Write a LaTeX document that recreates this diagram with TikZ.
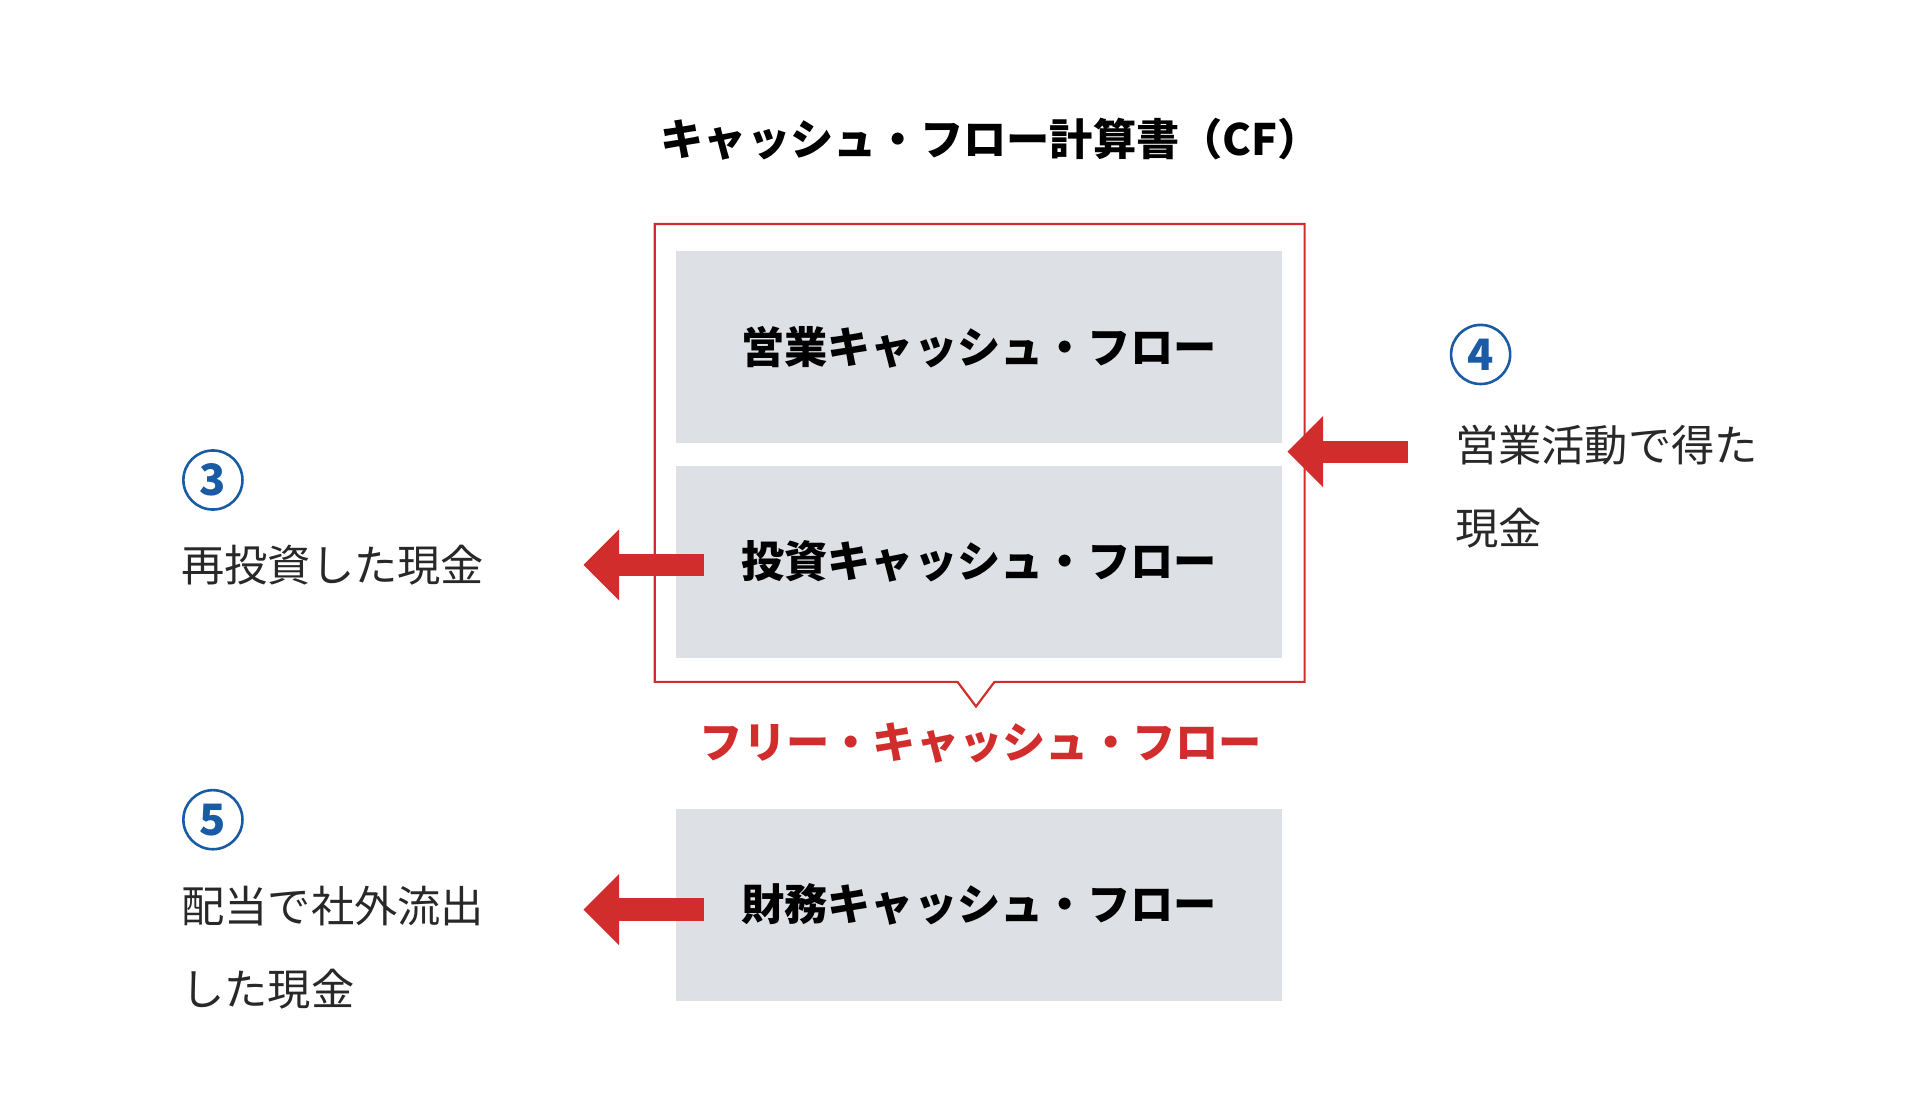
\documentclass[tikz,border=0pt]{standalone}
\usepackage{fontspec}
\setmainfont{Noto Sans CJK JP}
\usetikzlibrary{positioning, calc, arrows.meta}
\definecolor{cfred}{RGB}{210,45,45}
\definecolor{cfgray}{RGB}{221,225,230}
\definecolor{cfblue}{RGB}{26,91,166}
\definecolor{cftext}{RGB}{40,40,40}
\tikzset{
  cfbox/.style={fill=cfgray, minimum width=9.86cm, minimum height=3.12cm, inner sep=0pt,
                font=\fontsize{20}{24}\selectfont\bfseries},
  cfnum/.style={circle, draw=cfblue, line width=1.2pt, text=cfblue, minimum size=0.96cm,
                inner sep=0pt, font=\fontsize{20}{24}\selectfont\bfseries},
  cfnote/.style={anchor=west, text=cftext, align=left, inner sep=0pt,
                 font=\fontsize{20}{24}\selectfont},
  cfarrow/.style={draw=cfred, line width=0.36cm,
                  -{Triangle[width=1.12cm,length=0.58cm]}, shorten >=0pt}
}
\begin{document}
\begin{tikzpicture}
\useasboundingbox (0,0) rectangle (31.2,-17.84);
\node (title) at (16.1,-2.26) {\fontsize{20}{24}\selectfont\bfseries キャッシュ・フロー計算書（CF）};
% free cash flow frame
\draw [cfred, line width=1pt] (10.64,-3.64) -- (21.2,-3.64) -- (21.2,-11.08) -- (16.16,-11.08)
      -- (15.86,-11.48) -- (15.56,-11.08) -- (10.64,-11.08) -- cycle;
\node [cfbox] (op)  at (15.91,-5.64) {営業キャッシュ・フロー};
\node [cfbox] (inv) at (15.91,-9.13) {投資キャッシュ・フロー};
\node [cfbox] (fin) at (15.91,-14.7) {財務キャッシュ・フロー};
\node [text=cfred, font=\fontsize{20}{24}\selectfont\bfseries] (fcf) at (15.94,-12.08) {フリー・キャッシュ・フロー};
% numbers and notes
\node [cfnum] (n3) at (3.46,-7.8) {3};
\node [cfnum] (n4) at (24.06,-5.76) {4};
\node [cfnum] (n5) at (3.46,-13.32) {5};
\node [cfnote] (t3) at (2.94,-9.18) {再投資した現金};
\node [cfnote, text depth=0pt] (t4) at (23.64,-7.88) {営業活動で得た\\[0.5cm]現金};
\node [cfnote] (t5) at (2.94,-15.4) {配当で社外流出\\[0.5cm]した現金};
% arrows
\coordinate (a4s) at (22.88,-7.34);
\coordinate (a4e) at (20.92,-7.34);
\coordinate (a3s) at (11.44,-9.18);
\coordinate (a3e) at (9.48,-9.18);
\coordinate (a5s) at (11.44,-14.78);
\coordinate (a5e) at (9.48,-14.78);
\draw [cfarrow] (a4s) -- (a4e);
\draw [cfarrow] (a3s) -- (a3e);
\draw [cfarrow] (a5s) -- (a5e);
\end{tikzpicture}
\end{document}
